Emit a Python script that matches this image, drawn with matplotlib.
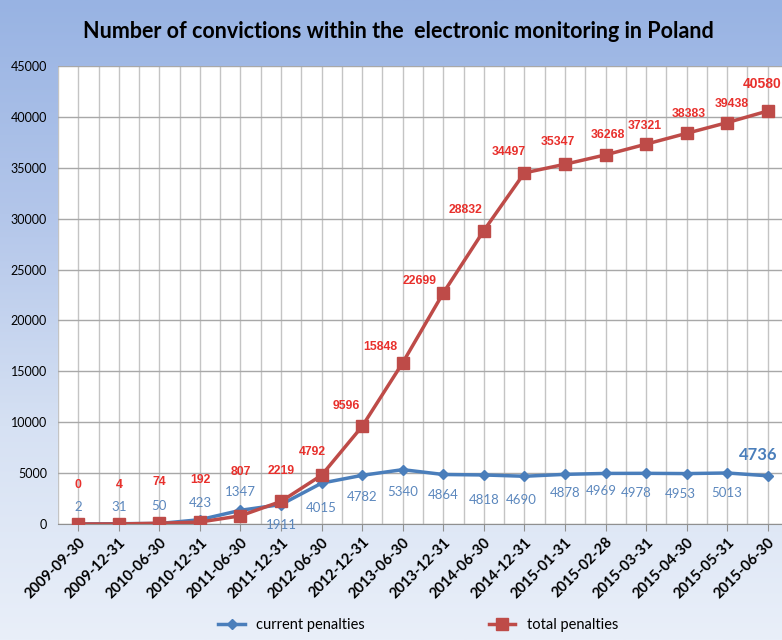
import numpy as np
import matplotlib
matplotlib.use('Agg')
import matplotlib.pyplot as plt
from matplotlib.colors import LinearSegmentedColormap

# datos del grafico
fechas = ['2009-09-30', '2009-12-31', '2010-06-30', '2010-12-31', '2011-06-30',
          '2011-12-31', '2012-06-30', '2012-12-31', '2013-06-30', '2013-12-31',
          '2014-06-30', '2014-12-31', '2015-01-31', '2015-02-28', '2015-03-31',
          '2015-04-30', '2015-05-31', '2015-06-30']
actuales = [2, 31, 50, 423, 1347, 1911, 4015, 4782, 5340, 4864, 4818, 4690,
            4878, 4969, 4978, 4953, 5013, 4736]
totales = [0, 4, 74, 192, 807, 2219, 4792, 9596, 15848, 22699, 28832, 34497,
           35347, 36268, 37321, 38383, 39438, 40580]

# desplazamiento de las etiquetas (pixeles)
off_tot = [(0, 39), (0, 39), (0, 41), (0, 42), (0, 44), (0, 30), (-9, 23),
           (-16, 20), (-22, 16), (-24, 12), (-18, 21), (-16, 21), (-7, 22),
           (2, 20), (-1, 18), (2, 19), (5, 19), (-6, 27)]
off_act = [(0, 17), (0, 17), (0, 17), (0, 17), (0, 18), (0, -20), (0, -25),
           (0, -22), (0, -22), (0, -21), (0, -25), (-3, -24), (0, -19),
           (-4, -18), (-10, -20), (-6, -20), (0, -20), (-10, 21)]

azul = '#4a7ebb'
rojo = '#be4b48'

fig = plt.figure(figsize=(7.82, 6.4), dpi=100)

# fondo con degradado
bg = fig.add_axes([0, 0, 1, 1], zorder=-10)
cmap = LinearSegmentedColormap.from_list('fondo', ['#98b3e3', '#b3c6ea', '#d6e1f3', '#e9eff9'])
grad = np.linspace(0, 1, 256).reshape(-1, 1)
bg.imshow(grad, aspect='auto', cmap=cmap, extent=[0, 1, 0, 1], origin='upper')
bg.set_axis_off()

ax = fig.add_axes([58 / 782, 1 - 524 / 640, 730 / 782, 458 / 640])
ax.set_facecolor('white')
x = np.arange(len(fechas))

ax.plot(x, actuales, color=azul, lw=2.5, marker='D', ms=5, label='current penalties', zorder=3)
ax.plot(x, totales, color=rojo, lw=2.5, marker='s', ms=8, label='total penalties', zorder=4)

for i in range(len(fechas)):
    ultimo = i == len(fechas) - 1
    ax.annotate(str(totales[i]), (x[i], totales[i]), xytext=off_tot[i],
                textcoords='offset pixels', ha='center', va='center',
                color='#e8302c', fontsize=10 if ultimo else 8.8,
                fontweight='bold', family='Liberation Sans', zorder=5,
                annotation_clip=False)
    ax.annotate(str(actuales[i]), (x[i], actuales[i]), xytext=off_act[i],
                textcoords='offset pixels', ha='center', va='center',
                color=azul if ultimo else '#5b87bd',
                fontsize=12 if ultimo else 9.5,
                fontweight='bold' if ultimo else 'normal', family='Lato', zorder=5)

ax.set_xlim(-0.5, 17.5)
ax.set_ylim(0, 45000)
ax.set_yticks(np.arange(0, 45001, 5000))
ax.set_xticks(x)
ax.set_xticks(np.arange(-0.5, 18, 1), minor=True)
ax.set_xticklabels(fechas, rotation=45, ha='right', rotation_mode='anchor',
                   fontsize=10.5, fontweight='bold', family='Lato')
ax.tick_params(axis='y', length=0, labelsize=9, pad=8)
ax.tick_params(axis='x', which='major', length=5, color='#909090', pad=3)
ax.tick_params(axis='x', which='minor', length=0)
for lbl in ax.get_yticklabels():
    lbl.set_family('Lato')
ax.grid(axis='y', color='#a8a8a8', lw=1)
ax.grid(axis='x', which='both', color='#c4c4c4', lw=1)
ax.set_axisbelow(True)
for s in ax.spines.values():
    s.set_visible(False)
ax.spines['bottom'].set_visible(True)
ax.spines['bottom'].set_color('#909090')

fig.text(0.51, 1 - 31 / 640, 'Number of convictions within the  electronic monitoring in Poland',
         ha='center', va='center', fontsize=15.5, fontweight='bold', family='Lato')

fig.legend(loc='center', bbox_to_anchor=(0.535, 1 - 625 / 640), ncol=2, frameon=False,
           columnspacing=8.5, handlelength=1.8, handletextpad=0.8,
           prop={'family': 'Lato', 'size': 10.5})

fig.savefig('out.png', dpi=100)
